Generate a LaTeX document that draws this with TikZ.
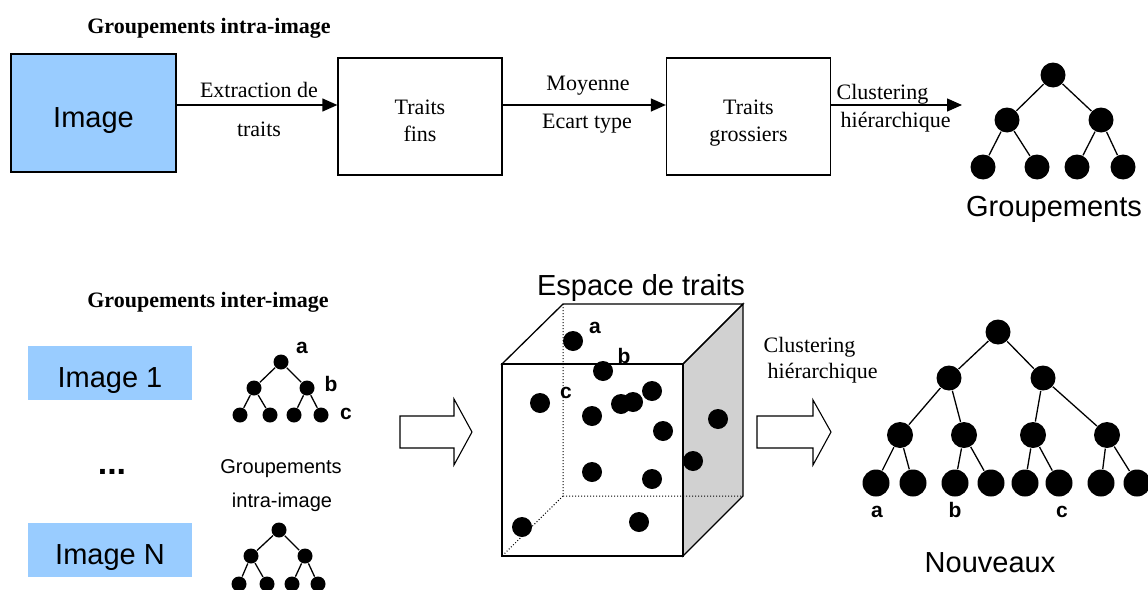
\documentclass[tikz,border=0pt]{standalone}
\usepackage{fontspec}
\setmainfont{Liberation Serif}
\newfontfamily\arial{Liberation Sans}
\usetikzlibrary{arrows.meta}
\definecolor{bleu}{RGB}{153,204,255}
\definecolor{gris}{gray}{0.82}

\begin{document}
\begin{tikzpicture}[x=1pt, y=-1pt, line width=1.3pt,
    boite/.style={draw, inner sep=0pt, minimum width=164pt, minimum height=117pt, align=center, font=\fontsize{22}{27}\selectfont},
    vignette/.style={fill=bleu, inner sep=0pt, minimum width=164pt, minimum height=54pt, text height=28pt, text depth=0pt, font=\arial\fontsize{29}{34}\selectfont},
    txt/.style={anchor=base, inner sep=0pt, font=\fontsize{22}{27}\selectfont},
    titre/.style={anchor=base, inner sep=0pt, font=\bfseries\fontsize{22}{27}\selectfont},
    grand/.style={anchor=base, inner sep=0pt, font=\arial\fontsize{29}{34}\selectfont},
    petit/.style={anchor=base, inner sep=0pt, font=\arial\fontsize{20}{24}\selectfont},
    lettre/.style={anchor=base, inner sep=0pt, font=\arial\bfseries\fontsize{21}{24}\selectfont},
    fleche/.style={-{Triangle[length=15pt, width=13pt]}},
    pt/.style={circle, fill, inner sep=0pt, minimum size=#1},
    pt/.default=25pt]
    \useasboundingbox (0,0) rectangle (1148,589);

    % --- groupements intra-image
    \node[titre] (titreA) at (209,33) {Groupements intra-image};
    \node[boite, fill=bleu, minimum width=165pt, minimum height=118pt, text height=28pt, text depth=0pt, font=\arial\fontsize{29}{34}\selectfont] (image) at (93.5,113) {Image};
    \node[boite, text height=49pt, text depth=0pt] (fins) at (420,116.5) {Traits\\fins};
    \node[boite, text height=49pt, text depth=0pt] (grossiers) at (748.5,116.5) {Traits\\grossiers};
    \coordinate (ligne) at (0,105);
    \coordinate (fin) at (962,105);
    \draw[fleche] (image.east |- ligne) -- (fins.west |- ligne);
    \draw[fleche] (fins.east |- ligne) -- (grossiers.west |- ligne);
    \draw[fleche] (grossiers.east |- ligne) -- (fin);
    \node[txt] (extr) at (259,97) {Extraction de};
    \node[txt] (extrb) at (259,136) {traits};
    \node[txt] (moy) at (588,90) {Moyenne};
    \node[txt] (ecart) at (587,128) {Ecart type};
    \node[txt, anchor=base west] (clustA) at (836,99) {Clustering};
    \node[txt, anchor=base west] (clustAb) at (840,127) {hiérarchique};

    % arbre
    \node[pt] (r) at (1053,75) {};
    \node[pt] (r1) at (1007,120) {};
    \node[pt] (r2) at (1101,120) {};
    \foreach \x [count=\i] in {983,1037,1077,1123}
        \node[pt] (f\i) at (\x,167) {};
    \draw (r) -- (r1) (r) -- (r2) (r1) -- (f1) (r1) -- (f2) (r2) -- (f3) (r2) -- (f4);
    \node[grand] (grp) at (1054,216) {Groupements};

    % --- groupements inter-image
    \node[titre] (titreB) at (208,307) {Groupements inter-image};
    \node[vignette] (img1) at (110,373) {Image 1};
    \node[vignette] (imgN) at (110,550) {Image N};
    \node[anchor=base, inner sep=0pt, font=\arial\bfseries\fontsize{34}{40}\selectfont] (points) at (112,474) {...};

    \node[pt=15pt] (a) at (281,362) {};
    \node[pt=15pt] (a1) at (254,388) {};
    \node[pt=15pt] (a2) at (307,388) {};
    \foreach \x [count=\i] in {240,270,294,321}
        \node[pt=15pt] (af\i) at (\x,415) {};
    \draw (a) -- (a1) (a) -- (a2) (a1) -- (af1) (a1) -- (af2) (a2) -- (af3) (a2) -- (af4);
    \node[lettre] (la) at (302,353) {a};
    \node[lettre] (lb) at (331,391) {b};
    \node[lettre] (lc) at (346,419) {c};
    \node[petit] (grpA) at (281,473) {Groupements};
    \node[petit] (grpB) at (282,507) {intra-image};
    \node[pt=15pt] (n) at (279,530) {};
    \node[pt=15pt] (n1) at (251,556) {};
    \node[pt=15pt] (n2) at (305,556) {};
    \foreach \x [count=\i] in {239,267,292,318}
        \node[pt=15pt] (nf\i) at (\x,584) {};
    \draw (n) -- (n1) (n) -- (n2) (n1) -- (nf1) (n1) -- (nf2) (n2) -- (nf3) (n2) -- (nf4);

    % fleches creuses
    \draw[line width=1.1pt] (400,416) -- (454,416) -- (454,399) -- (472,432) -- (454,465) -- (454,448) -- (400,448) -- cycle;
    \draw[line width=1.1pt] (757,416) -- (813,416) -- (813,400) -- (831,432) -- (813,465) -- (813,448) -- (757,448) -- cycle;

    % espace de traits
    \node[grand] (espace) at (641,295) {Espace de traits};
    \draw[fill=gris] (683,364) -- (743,304) -- (743,496) -- (683,556) -- cycle;
    \draw (502,364) -- (563,304) -- (743,304) -- (683,364) -- cycle;
    \draw (502,364) rectangle (683,556);
    \draw[dotted, line width=1pt] (563,304) -- (563,496) -- (743,496) (563,496) -- (502,556);
    \foreach \x/\y [count=\i] in {573/341, 603/371, 540/403, 592/416, 621/404, 633/402, 652/391,
        663/431, 718/419, 693/461, 592/472, 652/479, 639/522, 522/527}
        \node[pt=20pt] (e\i) at (\x,\y) {};
    \node[lettre] (ea) at (595,333) {a};
    \node[lettre] (eb) at (624,363) {b};
    \node[lettre] (ec) at (566,398) {c};
    \node[txt, anchor=base west] (clustB) at (763,352) {Clustering};
    \node[txt, anchor=base west] (clustBb) at (767,378) {hiérarchique};

    % nouveaux groupements
    \node[pt] (m) at (998,332) {};
    \node[pt] (m1) at (949,378) {};
    \node[pt] (m2) at (1043,378) {};
    \foreach \x [count=\i] in {900,964,1033,1107}
        \node[pt=26pt] (k\i) at (\x,435) {};
    \foreach \x [count=\i] in {876,913,955,991,1025,1059,1101,1137}
        \node[pt=27pt] (q\i) at (\x,483) {};
    \draw (m) -- (m1) (m) -- (m2) (m1) -- (k1) (m1) -- (k2) (m2) -- (k3) (m2) -- (k4);
    \draw (k1) -- (q1) (k1) -- (q2) (k2) -- (q3) (k2) -- (q4) (k3) -- (q5) (k3) -- (q6) (k4) -- (q7) (k4) -- (q8);
    \node[lettre] (na) at (877,517) {a};
    \node[lettre] (nb) at (955,517) {b};
    \node[lettre] (nc) at (1062,517) {c};
    \node[grand] (nouv) at (990,572) {Nouveaux};
\end{tikzpicture}
\end{document}
